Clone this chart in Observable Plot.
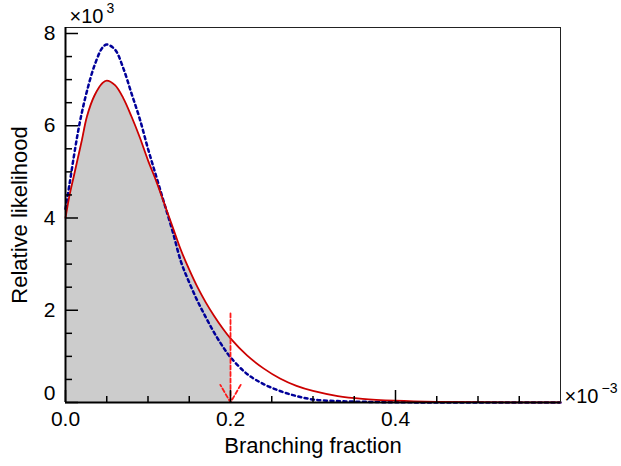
<!DOCTYPE html>
<html>
<head>
<meta charset="utf-8">
<script src="https://cdn.jsdelivr.net/npm/d3@7"></script>
<script src="https://cdn.jsdelivr.net/npm/@observablehq/plot@0.6"></script>
<style>
  html, body { margin: 0; padding: 0; background: #fff; }
  #chart svg { display: block; font-family: "Liberation Sans", Arial, Helvetica, sans-serif; }
</style>
</head>
<body>
<div id="chart"></div>
<script>
// Branching fraction (x 10^-3)
const fractions = [0, 0.005, 0.01, 0.015, 0.02, 0.026, 0.035, 0.045, 0.05, 0.06, 0.07, 0.08, 0.09, 0.1, 0.11, 0.12, 0.13, 0.14, 0.15, 0.16, 0.17, 0.18, 0.19, 0.2, 0.22, 0.24, 0.26, 0.28, 0.3, 0.33, 0.36, 0.4, 0.45, 0.5, 0.55, 0.6];
// Relative likelihood (x 10^3), red solid curve
const likelihoodSolid = [4.0, 4.5, 4.9, 5.3, 5.7, 6.2, 6.65, 6.93, 6.98, 6.88, 6.6, 6.2, 5.75, 5.25, 4.8, 4.3, 3.8, 3.3, 2.88, 2.5, 2.17, 1.88, 1.62, 1.39, 1.02, 0.74, 0.52, 0.36, 0.25, 0.14, 0.08, 0.04, 0.015, 0.006, 0.002, 0.001];
// Relative likelihood (x 10^3), blue dotted curve
const likelihoodDotted = [4.2, 4.75, 5.32, 5.85, 6.3, 6.75, 7.3, 7.7, 7.76, 7.65, 7.25, 6.7, 6.15, 5.5, 4.9, 4.3, 3.7, 3.05, 2.6, 2.2, 1.85, 1.52, 1.23, 0.98, 0.62, 0.4, 0.25, 0.14, 0.065, 0.03, 0.015, 0.005, 0.001, 0, 0, 0];
// Upper limit marker
const upperLimit = [{x: 0.2, top: 1.93}];
// Ticks
const xMajorTicks = [0, 0.2, 0.4];
const xMinorTicks = [0.05, 0.1, 0.15, 0.25, 0.3, 0.35, 0.45, 0.5, 0.55];
const yMajorTicks = [0, 2, 4, 6, 8];
const yMinorTicks = [0.5, 1, 1.5, 2.5, 3, 3.5, 4.5, 5, 5.5, 6.5, 7, 7.5];

const solid = fractions.map((x, i) => ({x, y: likelihoodSolid[i]}));
const dotted = fractions.map((x, i) => ({x, y: likelihoodDotted[i]}));
const shaded = solid.filter(d => d.x <= upperLimit[0].x + 1e-9);

const W = 621, H = 466;
const mL = 65, mR = 61, mT = 27, mB = 64;
const innerW = W - mL - mR, innerH = H - mT - mB;
const FS = 21;

const chart = Plot.plot({
  width: W, height: H,
  marginLeft: mL, marginRight: mR, marginTop: mT, marginBottom: mB,
  style: {fontFamily: '"Liberation Sans", Arial, Helvetica, sans-serif', background: "#fff", color: "#000"},
  x: {domain: [0, 0.6]},
  y: {domain: [0, 8.13]},
  marks: [
    Plot.areaY(shaded, {x: "x", y: "y", fill: "#cccccc", curve: "catmull-rom"}),
    Plot.line(dotted, {x: "x", y: "y", stroke: "#000099", strokeWidth: 2.5, strokeDasharray: "3,3.5", curve: "catmull-rom"}),
    Plot.line(solid, {x: "x", y: "y", stroke: "#cc0000", strokeWidth: 1.8, curve: "catmull-rom"}),
    Plot.arrow(upperLimit, {x1: "x", y1: "top", x2: "x", y2: () => 0, stroke: "#ff1a1a", strokeWidth: 1.8, strokeDasharray: "4,2.5", headAngle: 60, headLength: 17}),
    // frame
    Plot.frame({stroke: "#222", strokeWidth: 1}),
    Plot.ruleX([0], {stroke: "#000", strokeWidth: 2}),
    Plot.ruleY([0], {stroke: "#000", strokeWidth: 2}),
    // inward ticks
    Plot.tickX(xMajorTicks, {x: d => d, insetTop: innerH - 12, stroke: "#000", strokeWidth: 1.5}),
    Plot.tickX(xMinorTicks, {x: d => d, insetTop: innerH - 6, stroke: "#000", strokeWidth: 1.5}),
    Plot.tickY(yMajorTicks, {y: d => d, insetRight: innerW - 13, stroke: "#000", strokeWidth: 1.5}),
    Plot.tickY(yMinorTicks, {y: d => d, insetRight: innerW - 7, stroke: "#000", strokeWidth: 1.5}),
    // tick labels
    Plot.axisX({ticks: xMajorTicks, tickSize: 0, tickPadding: 9, tickFormat: d3.format(".1f"), fontSize: FS, label: null}),
    Plot.axisY({ticks: yMajorTicks.filter(d => d > 0), tickSize: 0, tickPadding: 10, tickFormat: d3.format("d"), fontSize: FS, label: null}),
    Plot.axisY({ticks: [0], tickSize: 0, tickPadding: 10, dy: -9, tickFormat: d3.format("d"), fontSize: FS, label: null}),
    // axis titles
    Plot.text(["Branching fraction"], {frameAnchor: "bottom", dy: 35, lineAnchor: "top", textAnchor: "middle", fontSize: 22, text: d => d}),
    Plot.text(["Relative likelihood"], {frameAnchor: "left", dx: -46, rotate: -90, textAnchor: "middle", fontSize: 22, text: d => d}),
    // exponent labels
    Plot.text(["×10"], {frameAnchor: "top-left", dx: 4, dy: -5, textAnchor: "start", lineAnchor: "bottom", fontSize: 20, text: d => d}),
    Plot.text(["3"], {frameAnchor: "top-left", dx: 41, dy: -15, textAnchor: "start", lineAnchor: "bottom", fontSize: 14, text: d => d}),
    Plot.text(["×10"], {frameAnchor: "bottom-right", dx: 4, dy: 0, textAnchor: "start", lineAnchor: "bottom", fontSize: 20, text: d => d}),
    Plot.text(["−3"], {frameAnchor: "bottom-right", dx: 41, dy: -10, textAnchor: "start", lineAnchor: "bottom", fontSize: 14, text: d => d})
  ]
});
document.getElementById("chart").appendChild(chart);
</script>
</body>
</html>
